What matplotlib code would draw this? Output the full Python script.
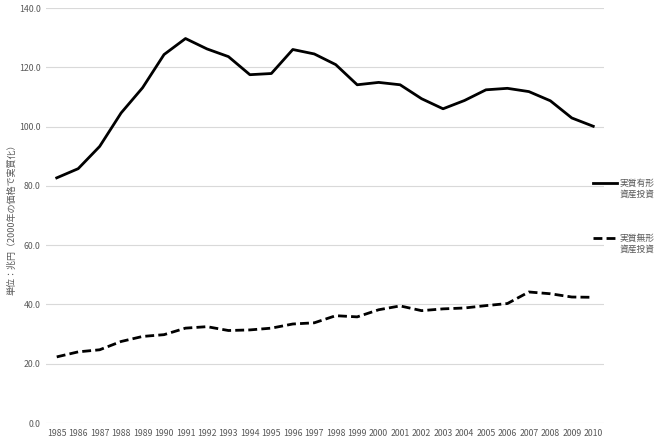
import numpy as np
import matplotlib
matplotlib.use("Agg")
import matplotlib.pyplot as plt
from matplotlib.lines import Line2D

plt.rcParams['font.family'] = ['Noto Sans CJK JP', 'DejaVu Sans']

years = list(range(1985, 2011))
tangible = [82.7, 85.8, 93.3, 104.6, 113.1, 124.3, 129.7, 126.2, 123.6, 117.5,
            117.9, 126.0, 124.5, 120.9, 114.1, 114.9, 114.1, 109.4, 106.0, 108.8,
            112.4, 112.9, 111.8, 108.7, 102.9, 100.1]
intangible = [22.3, 24.0, 24.7, 27.5, 29.2, 29.8, 32.0, 32.5, 31.2, 31.4,
              32.0, 33.4, 33.8, 36.2, 35.8, 38.2, 39.5, 37.9, 38.5, 38.8,
              39.6, 40.3, 44.2, 43.6, 42.5, 42.4]
labels = ['実質有形\n資産投資', '実質無形\n資産投資']
ylabel = '単位：兆円（2000年の価格で実質化）'
grey = '#595959'

fig = plt.figure(figsize=(6.6, 4.4), dpi=100)
ax = fig.add_axes([46 / 660, 17 / 440, 558 / 660, 415 / 440])

x = np.arange(len(years))
ax.plot(x, tangible, color='black', lw=2.0, solid_joinstyle='round')
ax.plot(x, intangible, color='black', lw=2.0, dashes=(3.2, 1.5))

ax.set_xlim(-0.5, len(years) - 0.5)
ax.set_ylim(0, 140)
ax.set_yticks(np.arange(0, 141, 20))
ax.set_yticklabels(['%.1f' % v for v in np.arange(0, 141, 20)])
ax.set_xticks(x)
ax.set_xticklabels([str(y) for y in years])
ax.tick_params(length=0, labelsize=6.3, colors=grey, pad=4)
ax.grid(axis='y', color='#d9d9d9', lw=0.8)
ax.set_axisbelow(True)
for s in ax.spines.values():
    s.set_visible(False)

fig.text(12 / 660, 1 - 217 / 440, ylabel, rotation=90, ha='center', va='center',
         fontsize=6.5, color=grey)

# legend at right
for i, (lab, ls) in enumerate(zip(labels, ['-', '--'])):
    yc = 1 - (183.5 + 55 * i) / 440
    ln = Line2D([593 / 660, 617 / 660], [yc, yc], transform=fig.transFigure,
                color='black', lw=2.0)
    if ls == '--':
        ln.set_dashes((3.2, 1.5))
    fig.add_artist(ln)
    fig.text(620 / 660, yc + 4.5 / 440, lab, ha='left', va='top', fontsize=6.3,
             color=grey, linespacing=1.25)

fig.savefig('out.png', dpi=100)
